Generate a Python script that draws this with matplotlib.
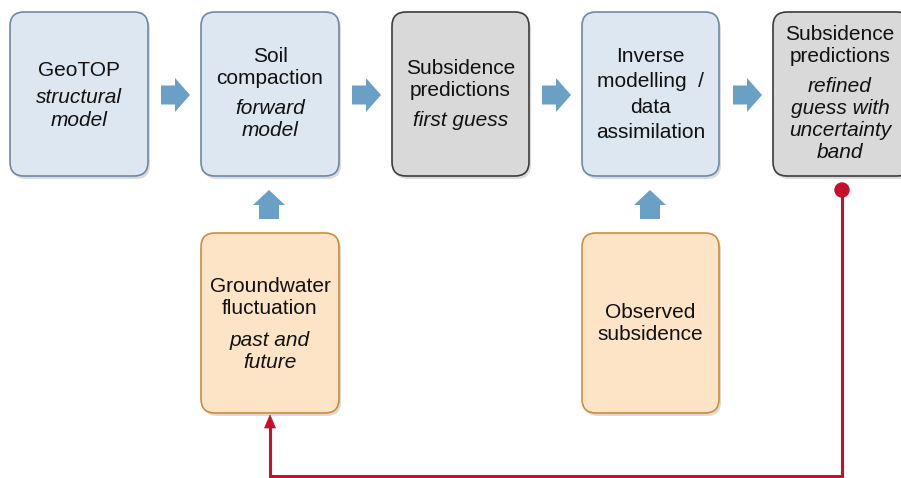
import matplotlib.pyplot as plt
from matplotlib.patches import FancyBboxPatch, FancyArrow, Circle

plt.rcParams['font.family'] = ['Liberation Sans', 'DejaVu Sans']

# boxes: (left, top, width, height, kind)
box_left = [10, 201, 392, 582, 773, 201, 582]
box_top = [12, 12, 12, 12, 12, 233, 233]
box_w = [138, 138, 137, 137, 138, 138, 137]
box_h = [164, 164, 164, 164, 164, 180, 180]
box_kind = ['blue', 'blue', 'gray', 'blue', 'gray', 'orange', 'orange']

# text lines per box: (text, italic)
box_lines = [
    [("GeoTOP", False), ("structural", True), ("model", True)],
    [("Soil", False), ("compaction", False), ("forward", True), ("model", True)],
    [("Subsidence", False), ("predictions", False), ("first guess", True)],
    [("Inverse", False), ("modelling  /", False), ("data", False), ("assimilation", False)],
    [("Subsidence", False), ("predictions", False), ("refined", True),
     ("guess with", True), ("uncertainty", True), ("band", True)],
    [("Groundwater", False), ("fluctuation", False), ("past and", True), ("future", True)],
    [("Observed", False), ("subsidence", False)],
]
line_y = [
    [70, 97, 120],
    [56, 78, 108, 130],
    [68, 90, 120],
    [56, 81, 107, 132],
    [34, 56, 86, 108, 130, 153],
    [287, 309, 340, 363],
    [312, 335],
]

fills = {'blue': '#dde7f1', 'gray': '#d9d9d9', 'orange': '#fee4c6'}
edges = {'blue': '#6c89a6', 'gray': '#3c3c3c', 'orange': '#d08c3a'}
arrow_col = '#6a9fc6'
red = '#c8102e'

fig = plt.figure(figsize=(9.01, 4.78), dpi=100)
ax = fig.add_axes([0, 0, 1, 1])
ax.set_xlim(0, 901)
ax.set_ylim(478, 0)
ax.set_aspect('equal')
ax.axis('off')

for i in range(len(box_left)):
    x, y, w, h = box_left[i], box_top[i], box_w[i], box_h[i]
    # shadow
    sh = FancyBboxPatch((x + 2, y + 3), w, h, boxstyle="round,pad=0,rounding_size=14",
                        fc='#999999', ec='none', alpha=0.35, zorder=1)
    ax.add_patch(sh)
    b = FancyBboxPatch((x, y), w, h, boxstyle="round,pad=0,rounding_size=14",
                       fc=fills[box_kind[i]], ec=edges[box_kind[i]], lw=1.2, zorder=2)
    ax.add_patch(b)
    cx = x + w / 2
    if i == 4:
        cx = 840
    for (txt, it), ty in zip(box_lines[i], line_y[i]):
        ax.text(cx, ty, txt, ha='center', va='center', fontsize=15,
                style='italic' if it else 'normal', color='#111111', zorder=3)

# right arrows between top boxes
arrow_x = [161, 352, 542, 733]
for ax0 in arrow_x:
    ax.add_patch(FancyArrow(ax0, 95, 29, 0, width=19, head_width=34, head_length=15,
                            length_includes_head=True, fc=arrow_col, ec='none', zorder=2))

# up arrows from bottom boxes
up_x = [269, 650]
for ux in up_x:
    ax.add_patch(FancyArrow(ux, 219, 0, -29, width=20, head_width=32, head_length=15,
                            length_includes_head=True, fc=arrow_col, ec='none', zorder=2))

# red feedback loop
ax.plot([842, 842, 270, 270], [190, 476, 476, 425], color=red, lw=2.2,
        solid_joinstyle='miter', zorder=4)
ax.add_patch(FancyArrow(270, 428, 0, -13, width=0, head_width=11, head_length=13,
                        length_includes_head=True, fc=red, ec=red, lw=0.5, zorder=4))
ax.add_patch(Circle((842, 190), 7, fc=red, ec=red, zorder=5))

fig.savefig('out.png', dpi=100)
